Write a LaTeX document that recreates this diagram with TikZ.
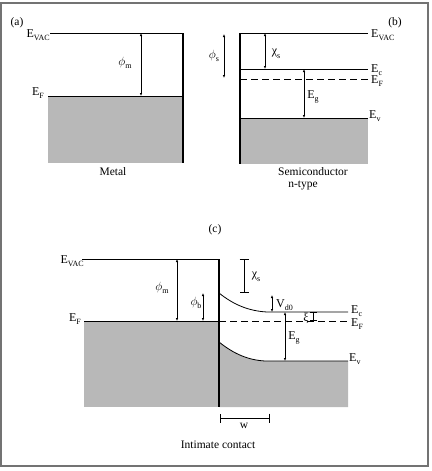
\documentclass[tikz,border=0pt]{standalone}
\usepackage{fontspec}
\setmainfont{Liberation Serif}
\usetikzlibrary{arrows.meta}
\tikzset{
  lvl/.style={line width=0.8pt},
  wall/.style={line width=1.1pt},
  thickwall/.style={line width=1.8pt},
  band/.style={fill=black!28},
  dimarrow/.style={{Latex[length=3pt,width=2.4pt]}-{Latex[length=3pt,width=2.4pt]}, line width=0.6pt},
  dimbar/.style={{Bar[width=9pt]}-{Bar[width=9pt]}, line width=0.7pt},
  lbl/.style={inner sep=0pt, font=\fontsize{12}{14}\selectfont},
  txt/.style={inner sep=0pt, font=\fontsize{11.5}{13}\selectfont},
  frame/.style={line width=1.1pt, draw=black!55}
}
\newcommand{\sbs}[1]{\raisebox{-3.5pt}{\fontsize{8}{9}\selectfont #1}}
\newcommand{\gphi}{$\phi$}
\begin{document}
\begin{tikzpicture}[x=1pt,y=-1pt]
\useasboundingbox (0,0) rectangle (431,471);
\draw[frame] (1,3) rectangle (428,466);

% ---------- panel (a) ----------
\fill[band] (48,96) rectangle (183,163);
\draw[lvl] (50,33) -- (183,33);
\draw[wall] (183,33) -- (183,163);
\draw[lvl] (48,96) -- (183,96);
\coordinate (am1) at (141,33); \coordinate (am2) at (141,96);
\draw[dimarrow] (am1) -- (am2);
\node[txt] (la) at (17,23) {(a)};
\node[lbl, anchor=base east] (aevac) at (50,37) {E\sbs{VAC}};
\node[lbl] (aphim) at (125,63) {\gphi\sbs{m}};
\node[lbl, anchor=base east] (aef) at (44,95) {E\sbs{F}};
\node[txt] (metal) at (113,172) {Metal};

% ---------- panel (b) ----------
\fill[band] (240,118) rectangle (368,164);
\draw[wall] (240,33) -- (240,164);
\draw[lvl] (240,33) -- (368,33);
\draw[lvl] (240,69) -- (368,69);
\draw[lvl, dashed, dash pattern=on 7pt off 4pt] (240,79) -- (368,79);
\draw[lvl] (240,118) -- (368,118);
\coordinate (bx1) at (265,33); \coordinate (bx2) at (265,69);
\draw[dimarrow] (bx1) -- (bx2);
\coordinate (bg1) at (304,69); \coordinate (bg2) at (304,118);
\draw[dimarrow] (bg1) -- (bg2);
\coordinate (bs1) at (224,34); \coordinate (bs2) at (224,78);
\draw[dimarrow] (bs1) -- (bs2);
\node[txt] (lb) at (395,23) {(b)};
\node[lbl, anchor=base west] (bevac) at (371,37) {E\sbs{VAC}};
\node[lbl] (bchi) at (276,54) {χ\sbs{s}};
\node[lbl] (bphis) at (214,56) {\gphi\sbs{s}};
\node[lbl, anchor=base west] (bec) at (371,72) {E\sbs{c}};
\node[lbl, anchor=base west] (bef) at (371,83) {E\sbs{F}};
\node[lbl] (beg) at (313,97) {E\sbs{g}};
\node[lbl, anchor=base west] (bev) at (369,118) {E\sbs{v}};
\node[txt] (semi) at (313,172) {Semiconductor};
\node[txt] (ntype) at (303,186) {n-type};

% ---------- panel (c) ----------
\node[txt] (lc) at (215,230) {(c)};
\fill[band] (84,321) rectangle (219,407);
\fill[band] (219,342) .. controls (234,354) and (248,360) .. (265,361) -- (348,361) -- (348,407) -- (219,407) -- cycle;
\draw[lvl] (82,259) -- (219,259);
\draw[lvl] (84,321) -- (219,321);
\draw[lvl, dashed, dash pattern=on 7pt off 4pt] (219,321) -- (348,321);
\draw[lvl] (219,293) .. controls (234,305) and (249,311) .. (267,312) -- (348,312);
\draw[lvl] (219,342) .. controls (234,354) and (248,360) .. (265,361) -- (348,361);
\draw[thickwall] (219,259) -- (219,407);
\coordinate (cm1) at (177,259); \coordinate (cm2) at (177,321);
\draw[dimarrow] (cm1) -- (cm2);
\coordinate (cb1) at (203,293); \coordinate (cb2) at (203,321);
\draw[dimarrow] (cb1) -- (cb2);
\coordinate (cx1) at (244,259); \coordinate (cx2) at (244,293);
\draw[dimbar] (cx1) -- (cx2);
\coordinate (cv1) at (272,295); \coordinate (cv2) at (272,312);
\draw[dimarrow] (cv1) -- (cv2);
\coordinate (cg1) at (285,312); \coordinate (cg2) at (285,361);
\draw[dimarrow] (cg1) -- (cg2);
\coordinate (cz1) at (313,312); \coordinate (cz2) at (313,321);
\draw[{Bar[width=7pt]}-{Bar[width=7pt]}, line width=0.7pt] (cz1) -- (cz2);
\coordinate (cw1) at (220,418); \coordinate (cw2) at (270,418);
\draw[dimbar] (cw1) -- (cw2);

\node[lbl, anchor=base east] (cevac) at (84,263) {E\sbs{VAC}};
\node[lbl] (cphim) at (162,288) {\gphi\sbs{m}};
\node[lbl] (cphib) at (196,303) {\gphi\sbs{b}};
\node[lbl, anchor=base east] (cef) at (81,321) {E\sbs{F}};
\node[lbl] (cchi) at (256,277) {χ\sbs{s}};
\node[lbl, anchor=base west] (cvd) at (276,307) {V\sbs{d0}};
\node[lbl, anchor=base west] (cec) at (351,313) {E\sbs{c}};
\node[lbl, anchor=base west] (cefr) at (351,326) {E\sbs{F}};
\node[lbl, anchor=base west] (cev) at (349,361) {E\sbs{v}};
\node[lbl] (ceg) at (294,338) {E\sbs{g}};
\node[lbl] (cxi) at (306,318) {ξ};
\node[txt] (cw) at (244,426) {w};
\node[txt] (intim) at (218,445) {Intimate contact};
\end{tikzpicture}
\end{document}
